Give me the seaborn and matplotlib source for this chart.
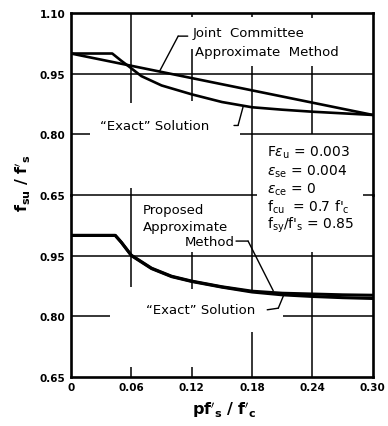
import pandas as pd
import matplotlib.pyplot as plt
import seaborn as sns

# Curve values (f_su / f'_s against p f'_s / f'_c)
x_top = [0, 0.041, 0.05, 0.057, 0.07, 0.09, 0.12, 0.15, 0.18, 0.21, 0.24, 0.27, 0.30]
exact_top = [1.00, 1.00, 0.982, 0.969, 0.944, 0.921, 0.899, 0.880, 0.867, 0.861, 0.856, 0.852, 0.848]
joint_x = [0, 0.30]
joint_y = [1.00, 0.848]

x_bot = [0, 0.044, 0.05, 0.06, 0.08, 0.10, 0.12, 0.15, 0.18, 0.21, 0.24, 0.27, 0.30]
exact_bot = [1.00, 1.00, 0.983, 0.950, 0.918, 0.898, 0.886, 0.872, 0.860, 0.853, 0.849, 0.846, 0.844]
approx_bot = [1.00, 1.00, 0.983, 0.951, 0.919, 0.899, 0.887, 0.873, 0.862, 0.857, 0.855, 0.853, 0.852]

x_ticks = [0, 0.06, 0.12, 0.18, 0.24, 0.30]
x_ticklabels = ["0", "0.06", "0.12", "0.18", "0.24", "0.30"]
top_yticks = [0.65, 0.80, 0.95, 1.10]
bot_yticks = [0.65, 0.80, 0.95]

params = [r"F$\varepsilon_{\rm u}$ = 0.003",
          r"$\varepsilon_{\rm se}$ = 0.004",
          r"$\varepsilon_{\rm ce}$ = 0",
          r"f$_{\rm cu}$  = 0.7 f$'_{\rm c}$",
          r"f$_{\rm sy}$/f$'_{\rm s}$ = 0.85"]
params_y = [0.756, 0.709, 0.665, 0.623, 0.578]

sns.set_style("white")
plt.rcParams['font.family'] = ['DejaVu Sans']
plt.rcParams['mathtext.fontset'] = 'dejavusans'
plt.rcParams['text.color'] = 'black'
plt.rcParams['xtick.color'] = 'black'
plt.rcParams['ytick.color'] = 'black'

fig = plt.figure(figsize=(3.88, 4.27), dpi=100)
gs = fig.add_gridspec(2, 1, left=0.183, right=0.961, top=0.967, bottom=0.115, hspace=0)
ax_t = fig.add_subplot(gs[0])
ax_b = fig.add_subplot(gs[1], sharex=ax_t)
ax_t.patch.set_visible(False)
ax_b.patch.set_visible(False)

LW = 1.9
GW = 1.1

# curves
sns.lineplot(x=joint_x, y=joint_y, color="black", linewidth=LW, ax=ax_t)
sns.lineplot(x=x_top, y=exact_top, color="black", linewidth=LW, ax=ax_t)
sns.lineplot(x=x_bot, y=approx_bot, color="black", linewidth=LW + 0.3, ax=ax_b)
sns.lineplot(x=x_bot, y=exact_bot, color="black", linewidth=LW + 0.3, ax=ax_b)

# broken grid segments of the original drawing
top_h = [(0.95, 0, 0.30), (0.80, 0, 0.019), (0.80, 0.168, 0.30),
         (0.65, 0, 0.185), (0.65, 0.29, 0.30)]
top_v = [(0.06, 1.10, 0.878), (0.06, 0.667, 0.65),
         (0.12, 1.10, 1.09), (0.12, 1.01, 0.883),
         (0.18, 1.10, 1.09), (0.18, 0.968, 0.65),
         (0.24, 1.10, 1.087), (0.24, 0.968, 0.80)]
bot_h = [(0.95, 0, 0.30), (0.80, 0, 0.039), (0.80, 0.211, 0.30)]
bot_v = [(0.06, 1.10, 0.872), (0.06, 0.65, 0.675),
         (0.12, 0.958, 0.867), (0.12, 0.65, 0.675),
         (0.18, 1.10, 0.86), (0.18, 0.761, 0.65),
         (0.24, 0.959, 0.65)]
for ax, hs, vs in [(ax_t, top_h, top_v), (ax_b, bot_h, bot_v)]:
    for y, x0, x1 in hs:
        ax.hlines(y, x0, x1, color="black", linewidth=GW, clip_on=False)
    for x, y0, y1 in vs:
        ax.vlines(x, y0, y1, color="black", linewidth=GW, clip_on=False)

for ax in (ax_t, ax_b):
    ax.set_xlim(0, 0.30)
    ax.set_ylim(0.65, 1.10)
    ax.set_xlabel("")
    ax.set_ylabel("")
    ax.tick_params(length=0, labelsize=7.5, pad=4)
    for s in ax.spines.values():
        s.set_linewidth(1.9)
        s.set_color("black")

ax_t.spines["bottom"].set_visible(False)
ax_b.spines["top"].set_visible(False)
ax_t.set_yticks(top_yticks)
ax_t.set_yticklabels(["%.2f" % v for v in top_yticks], fontweight="bold")
ax_b.set_yticks(bot_yticks)
ax_b.set_yticklabels(["%.2f" % v for v in bot_yticks], fontweight="bold")
ax_t.tick_params(labelbottom=False)
ax_b.set_xticks(x_ticks)
ax_b.set_xticklabels(x_ticklabels, fontweight="bold")

fs = 9.5
line_kw = dict(arrowprops=dict(arrowstyle="-", color="black", lw=1.0,
                               shrinkA=0, shrinkB=0))

# top panel labels
ax_t.text(0.121, 1.053, "Joint  Committee", fontsize=fs, va="center")
ax_t.text(0.123, 1.006, "Approximate  Method", fontsize=fs, va="center")
ax_t.annotate("", xy=(0.088, 0.956), xytext=(0.1065, 1.043), **line_kw)
ax_t.annotate("", xy=(0.1065, 1.043), xytext=(0.116, 1.043), **line_kw)
ax_t.text(0.029, 0.823, "\u201cExact\u201d Solution", fontsize=fs, va="center")
ax_t.annotate("", xy=(0.171, 0.868), xytext=(0.166, 0.822), **line_kw)
ax_t.annotate("", xy=(0.166, 0.822), xytext=(0.162, 0.822), **line_kw)

for t, y in zip(params, params_y):
    ax_t.text(0.195, y, t, fontsize=10, va="center")

# bottom panel labels
ax_b.text(0.0716, 1.065, "Proposed", fontsize=fs, va="center")
ax_b.text(0.0716, 1.023, "Approximate", fontsize=fs, va="center")
ax_b.text(0.163, 0.984, "Method", fontsize=fs, va="center", ha="right")
ax_b.annotate("", xy=(0.176, 0.986), xytext=(0.164, 0.986), **line_kw)
ax_b.annotate("", xy=(0.201, 0.863), xytext=(0.176, 0.986), **line_kw)
ax_b.text(0.075, 0.816, "\u201cExact\u201d Solution", fontsize=fs, va="center")
ax_b.annotate("", xy=(0.206, 0.820), xytext=(0.195, 0.816), **line_kw)
ax_b.annotate("", xy=(0.211, 0.850), xytext=(0.206, 0.820), **line_kw)

fig.text(0.057, 0.571, r"$\mathbf{f_{su}\ /\ f'_{s}}$", rotation=90,
         fontsize=11.5, ha="center", va="center")
fig.text(0.577, 0.040, r"$\mathbf{pf'_{s}\ /\ f'_{c}}$",
         fontsize=11.5, ha="center", va="center")

fig.savefig("out.png", dpi=100)
